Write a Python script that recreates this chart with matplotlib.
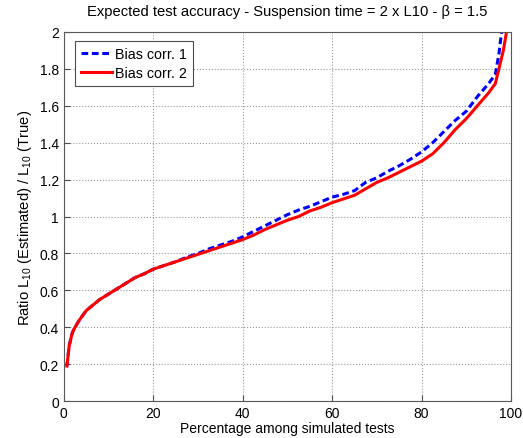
import matplotlib
matplotlib.use('Agg')
import matplotlib.pyplot as plt
from matplotlib.ticker import FuncFormatter

plt.rcParams['font.family'] = ['Liberation Sans', 'DejaVu Sans']
plt.rcParams['font.size'] = 10

# percentage among simulated tests -> ratio L10 estimated / true
x_corr2 = [0.7, 1.2, 1.9, 2.5, 3.5, 5, 6.5, 8, 10, 12, 14, 16, 18, 20, 22.5, 25,
           27.5, 30, 32.5, 35, 37.5, 40, 42.5, 45, 47.5, 50, 52.5, 55, 57.5, 60,
           62.5, 65, 67.5, 70, 72.5, 75, 77.5, 80, 82.5, 85, 87.5, 90, 92.5, 95,
           96.5, 97.5, 98.3, 99]
y_corr2 = [0.19, 0.30, 0.37, 0.40, 0.44, 0.49, 0.52, 0.55, 0.58, 0.61, 0.64, 0.67,
           0.69, 0.715, 0.735, 0.755, 0.775, 0.795, 0.815, 0.835, 0.855, 0.875,
           0.90, 0.93, 0.955, 0.98, 1.0, 1.03, 1.05, 1.075, 1.095, 1.115, 1.15,
           1.185, 1.21, 1.24, 1.27, 1.30, 1.34, 1.40, 1.47, 1.53, 1.60, 1.67,
           1.72, 1.82, 1.90, 2.0]

x_corr1 = [0.7, 1.2, 1.9, 2.5, 3.5, 5, 6.5, 8, 10, 12, 14, 16, 18, 20, 22.5, 25,
           27.5, 30, 32.5, 35, 37.5, 40, 42.5, 45, 47.5, 50, 52.5, 55, 57.5, 60,
           62.5, 65, 67.5, 70, 72.5, 75, 77.5, 80, 82.5, 85, 87.5, 90, 92.5, 95,
           96.5, 97.3, 97.9]
y_corr1 = [0.19, 0.30, 0.37, 0.40, 0.44, 0.49, 0.52, 0.55, 0.58, 0.61, 0.64, 0.67,
           0.69, 0.715, 0.735, 0.755, 0.78, 0.80, 0.825, 0.845, 0.865, 0.89,
           0.92, 0.95, 0.98, 1.01, 1.035, 1.055, 1.08, 1.105, 1.12, 1.14, 1.185,
           1.21, 1.245, 1.275, 1.31, 1.35, 1.40, 1.46, 1.52, 1.57, 1.65, 1.72,
           1.77, 1.88, 2.0]

fig = plt.figure(figsize=(5.23, 4.39), dpi=100)
ax = fig.add_axes([0.122, 0.084, 0.855, 0.841])

ax.plot(x_corr1, y_corr1, color='blue', linestyle='--', linewidth=2.2,
        dashes=(2.2, 1.2), label='Bias corr. 1')
ax.plot(x_corr2, y_corr2, color='red', linestyle='-', linewidth=2.2,
        label='Bias corr. 2')

ax.set_xlim(0, 100)
ax.set_ylim(0, 2)
ax.set_xticks(range(0, 101, 20))
ax.set_yticks([i * 0.2 for i in range(11)])
ax.yaxis.set_major_formatter(FuncFormatter(lambda v, p: '%g' % round(v, 1)))
ax.tick_params(direction='in', length=4, color='0.3', labelsize=10)
ax.grid(True, linestyle=':', color='0.6', linewidth=0.8)
for s in ax.spines.values():
    s.set_color('0.35')

ax.set_xlabel('Percentage among simulated tests', labelpad=1)
ax.set_ylabel(r'Ratio $\mathregular{L_{10}}$ (Estimated) / $\mathregular{L_{10}}$ (True)',
              fontsize=10.6, labelpad=4)
ax.set_title('Expected test accuracy - Suspension time = 2 x L10 - \u03b2 = 1.5',
             fontsize=10.6, pad=12)

leg = ax.legend(loc='upper left', bbox_to_anchor=(0.025, 0.975), fancybox=False,
                framealpha=1, edgecolor='0.3', handlelength=2.2,
                handletextpad=0.2, borderpad=0.4, labelspacing=0.35,
                borderaxespad=0, fontsize=10.3)
leg.get_frame().set_linewidth(0.8)

fig.savefig('out.png', dpi=100)
